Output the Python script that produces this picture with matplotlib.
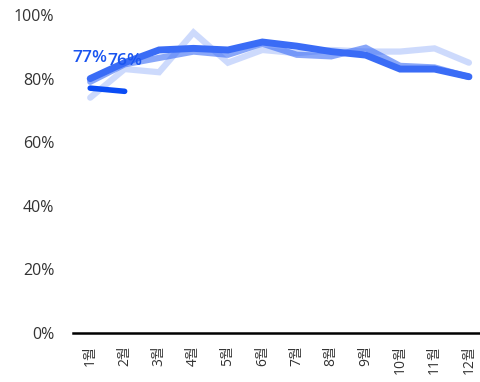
import matplotlib
matplotlib.use("Agg")
import matplotlib.pyplot as plt
from matplotlib.ticker import FuncFormatter

plt.rcParams['font.family'] = ['Open Sans', 'Noto Sans CJK KR', 'DejaVu Sans']

# monthly rates per year (%)
months = ["1월", "2월", "3월", "4월", "5월", "6월", "7월", "8월", "9월", "10월", "11월", "12월"]
year_a = [74, 83, 82, 94.5, 85, 89, 88, 89, 88.5, 88.5, 89.5, 85]
year_b = [79, 84.5, 86.5, 88.5, 87.5, 91, 87.5, 87, 89.7, 84, 83.5, 80.5]
year_c = [80, 85, 89, 89.5, 89, 91.5, 90.2, 88.5, 87.4, 83, 83, 80.6]
year_d = [77, 76]

fig = plt.figure(figsize=(4.81, 3.82), dpi=100)
ax = fig.add_axes([73 / 481, 49 / 382, 408 / 481, 328 / 382])

x = list(range(1, 13))
base = "#3a6cf6"
ax.plot(x, year_a, color=base, alpha=0.25, lw=4.5, solid_capstyle="round",
        solid_joinstyle="miter", zorder=2)
ax.plot(x, year_b, color=base, alpha=0.6, lw=4.5, solid_capstyle="round",
        solid_joinstyle="miter", zorder=3)
ax.plot(x, year_c, color=base, lw=5, solid_capstyle="round",
        solid_joinstyle="miter", zorder=4)
xd = x[:len(year_d)]
ax.plot(xd, year_d, color="#0a4cf5", lw=4, solid_capstyle="round", zorder=5)

for xi, v in zip(xd, year_d):
    ax.annotate(f"{v:.0f}%", (xi, v), xytext=(0, 16), textcoords="offset points",
                ha="center", va="bottom", fontsize=12.5, fontweight="semibold",
                color="#1a55f0", zorder=6)

ax.set_xlim(0.5, 12.35)
ax.set_ylim(0, 100 * 328 / 318)
ax.set_yticks([0, 20, 40, 60, 80, 100])
ax.yaxis.set_major_formatter(FuncFormatter(lambda v, p: f"{v:.0f}%"))
ax.set_xticks(x)
ax.set_xticklabels(months, rotation=90, va="top", ha="center")

for s in ["left", "top", "right"]:
    ax.spines[s].set_visible(False)
ax.spines["bottom"].set_linewidth(1.8)
ax.spines["bottom"].set_color("black")
ax.tick_params(axis="both", length=0, labelcolor="#333333")
ax.tick_params(axis="x", pad=9, labelsize=10)
ax.tick_params(axis="y", pad=13.5, labelsize=11.5)

fig.savefig("out.png", dpi=100)
